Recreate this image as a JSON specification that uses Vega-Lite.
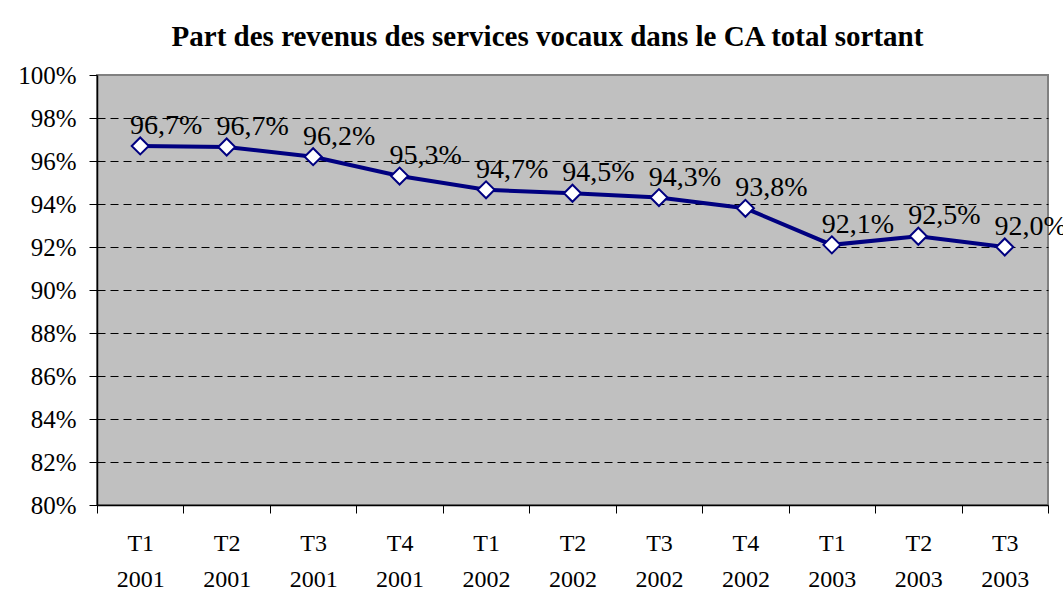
{
  "$schema": "https://vega.github.io/schema/vega-lite/v6.json",
  "autosize": {"type": "none"},
  "padding": {"left": 97, "top": 75, "right": 15, "bottom": 88},
  "width": 951,
  "height": 430,
  "background": "white",
  "title": {
    "text": "Part des revenus des services vocaux dans le CA total sortant",
    "font": "Liberation Serif",
    "fontSize": 29,
    "fontWeight": "bold",
    "color": "black",
    "anchor": "middle",
    "dx": -25,
    "baseline": "alphabetic",
    "offset": -12
  },
  "data": {
    "values": [
      {"period": "T1 2001", "value": 0.967, "label": "96,7%"},
      {"period": "T2 2001", "value": 0.9665, "label": "96,7%"},
      {"period": "T3 2001", "value": 0.962, "label": "96,2%"},
      {"period": "T4 2001", "value": 0.953, "label": "95,3%"},
      {"period": "T1 2002", "value": 0.9466, "label": "94,7%"},
      {"period": "T2 2002", "value": 0.945, "label": "94,5%"},
      {"period": "T3 2002", "value": 0.943, "label": "94,3%"},
      {"period": "T4 2002", "value": 0.938, "label": "93,8%"},
      {"period": "T1 2003", "value": 0.921, "label": "92,1%"},
      {"period": "T2 2003", "value": 0.925, "label": "92,5%"},
      {"period": "T3 2003", "value": 0.92, "label": "92,0%"}
    ]
  },
  "encoding": {
    "x": {
      "field": "period",
      "type": "ordinal",
      "sort": null,
      "scale": {"type": "band", "paddingInner": 0, "paddingOuter": 0},
      "axis": {
        "title": null,
        "labelAngle": 0,
        "labelExpr": "split(datum.label, ' ')",
        "labelFont": "Liberation Serif",
        "labelFontSize": 24,
        "labelColor": "black",
        "labelLineHeight": 36,
        "labelBaseline": "top",
        "labelPadding": 18,
        "tickBand": "extent",
        "tickSize": 8,
        "tickColor": "black",
        "domainColor": "black",
        "domainWidth": 1.5,
        "grid": false
      }
    },
    "y": {
      "field": "value",
      "type": "quantitative",
      "scale": {"domain": [0.8, 1.0], "nice": false, "zero": false},
      "axis": {
        "title": null,
        "values": [0.8, 0.82, 0.84, 0.86, 0.88, 0.9, 0.92, 0.94, 0.96, 0.98, 1.0],
        "format": ".0%",
        "labelFont": "Liberation Serif",
        "labelFontSize": 25,
        "labelColor": "black",
        "labelPadding": 13,
        "tickSize": 8,
        "tickColor": "black",
        "domainColor": "black",
        "domainWidth": 1.5,
        "grid": true,
        "gridColor": "black",
        "gridDash": [8, 5],
        "gridWidth": 1,
        "gridOpacity": {"condition": {"test": "datum.value >= 0.999 || datum.value <= 0.801", "value": 0}, "value": 1}
      }
    }
  },
  "layer": [
    {
      "mark": {"type": "line", "color": "#000080", "strokeWidth": 4}
    },
    {
      "mark": {"type": "point", "shape": "diamond", "filled": true, "fill": "white", "stroke": "#000080", "strokeWidth": 2, "size": 289, "opacity": 1}
    },
    {
      "mark": {"type": "text", "font": "Liberation Serif", "fontSize": 28, "color": "black", "align": "center", "baseline": "alphabetic", "dx": 26, "dy": -12},
      "encoding": {"text": {"field": "label"}}
    }
  ],
  "config": {
    "font": "Liberation Serif",
    "view": {"fill": "#C0C0C0", "stroke": "#808080", "strokeWidth": 2}
  }
}
